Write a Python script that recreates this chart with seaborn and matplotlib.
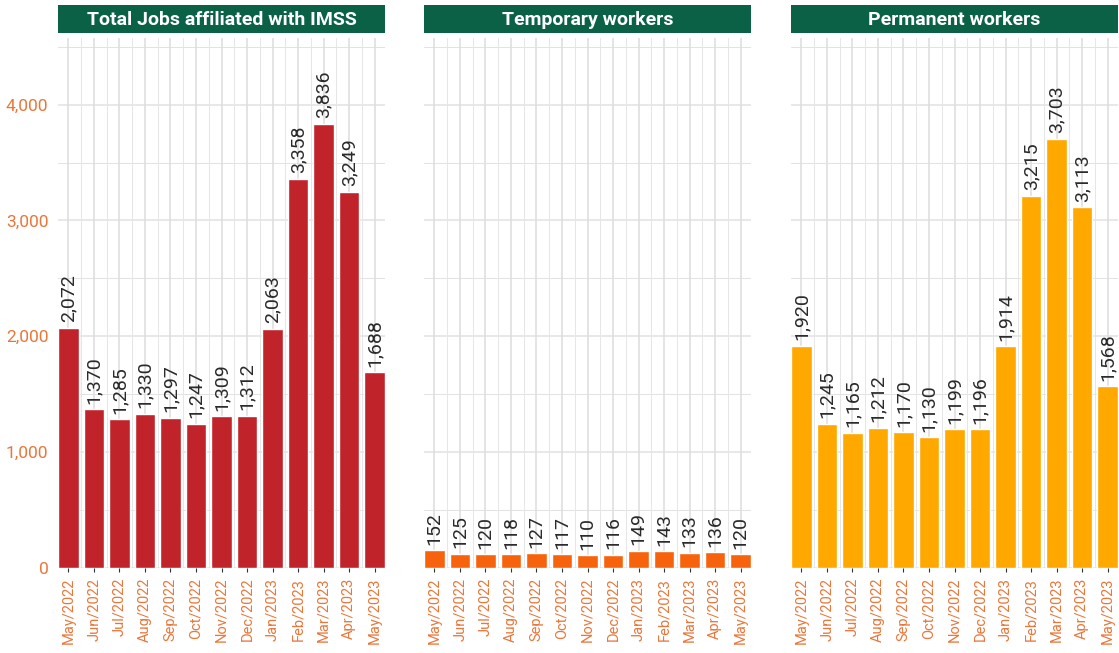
import matplotlib
matplotlib.use("Agg")
import matplotlib.pyplot as plt
import seaborn as sns
import pandas as pd
import numpy as np

months = ["May/2022", "Jun/2022", "Jul/2022", "Aug/2022", "Sep/2022", "Oct/2022",
          "Nov/2022", "Dec/2022", "Jan/2023", "Feb/2023", "Mar/2023", "Apr/2023", "May/2023"]
total_jobs = [2072, 1370, 1285, 1330, 1297, 1247, 1309, 1312, 2063, 3358, 3836, 3249, 1688]
temporary = [152, 125, 120, 118, 127, 117, 110, 116, 149, 143, 133, 136, 120]
permanent = [1920, 1245, 1165, 1212, 1170, 1130, 1199, 1196, 1914, 3215, 3703, 3113, 1568]
titles = ["Total Jobs affiliated with IMSS", "Temporary workers", "Permanent workers"]
colors = ["#C1232B", "#F7630C", "#FFA800"]
y_ticks = [0, 1000, 2000, 3000, 4000]

sns.set_theme(style="white")
plt.rcParams["font.family"] = ["Roboto", "DejaVu Sans"]

fig = plt.figure(figsize=(11.19, 6.53), dpi=100)
W, H = 1119, 653
lefts = [58, 424, 791]
pw = 327
top_px, bot_px = 38, 568

series = [total_jobs, temporary, permanent]
tick_color = "#E8773A"
for i, (vals, title, col) in enumerate(zip(series, titles, colors)):
    ax = fig.add_axes([lefts[i] / W, 1 - bot_px / H, pw / W, (bot_px - top_px) / H])
    df = pd.DataFrame({"month": months, "value": vals})
    sns.barplot(data=df, x="month", y="value", color=col, width=0.82,
                saturation=1, ax=ax, zorder=3)
    ax.set_xlim(-0.41, 12.41)
    ax.set_ylim(0, 4575)
    ax.set_xlabel("")
    ax.set_ylabel("")
    # grid
    for yv in np.arange(0, 4600, 500):
        lw = 1.1 if yv % 1000 == 0 else 0.7
        ax.axhline(yv, color="#E2E2E2", lw=lw, zorder=0)
    for xv in np.arange(0, 13):
        ax.axvline(xv, color="#DDDDDD", lw=1.1, zorder=0)
        ax.axvline(xv + 0.5, color="#E6E6E6", lw=0.7, zorder=0)
    for s in ax.spines.values():
        s.set_visible(False)
    ax.set_yticks(y_ticks)
    if i == 0:
        ax.set_yticklabels([f"{v:,}" for v in y_ticks], color=tick_color, fontsize=12.5)
    else:
        ax.set_yticklabels([])
    ax.tick_params(axis="y", length=0, pad=7)
    ax.tick_params(axis="x", length=3, width=0.8, color="#333333", pad=4,
                   labelsize=10.5, labelcolor=tick_color, rotation=90, bottom=True)
    for c in ax.containers:
        ax.bar_label(c, labels=[f"{v:,}" for v in vals], rotation=90, padding=4,
                     fontsize=14, color="#2A2A2A")
    # strip
    sax = fig.add_axes([lefts[i] / W, 1 - 33 / H, pw / W, 28 / H])
    sax.set_facecolor("#0B6146")
    sax.set_xticks([]); sax.set_yticks([])
    for s in sax.spines.values():
        s.set_visible(False)
    sax.text(0.5, 0.48, title, ha="center", va="center", color="white",
             fontsize=14, fontweight="bold", transform=sax.transAxes)

fig.savefig("out.png", dpi=100, facecolor="white")
